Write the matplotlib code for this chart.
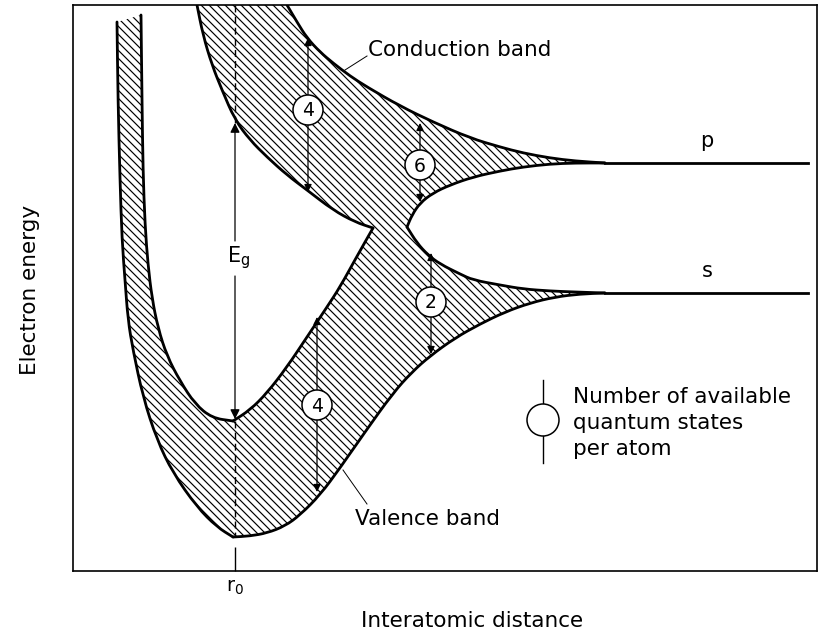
import numpy as np
import matplotlib
matplotlib.use('Agg')
import matplotlib.pyplot as plt
from matplotlib.patches import Circle, PathPatch
from matplotlib.path import Path
from matplotlib.collections import LineCollection

plt.rcParams['font.family'] = ['DejaVu Sans']

# band edges (distance, energy) in picture units, energy axis points down
outer_left_x = [117, 118, 120, 122, 125, 128, 133, 143, 157, 173, 197, 217, 233]
outer_left_y = [22, 100, 180, 240, 280, 320, 350, 397, 440, 473, 507, 527, 537]

inner_left_x = [141, 142, 143, 145, 148, 152, 158, 167, 180, 195, 212, 233]
inner_left_y = [15, 100, 170, 225, 265, 298, 328, 356, 381, 404, 418, 421]

valence_v_x = [233, 250, 267, 287, 307, 327, 340, 356, 373]
valence_v_y = [421, 410, 393, 367, 337, 307, 287, 258, 228]

valence_low_x = [233, 250, 267, 285, 300, 320, 340, 365, 393, 412, 430, 455, 480, 505, 530, 555, 580, 605]
valence_low_y = [537, 536, 533, 526, 515, 495, 468, 432, 393, 372, 356, 338, 324, 312, 303, 297, 294, 293]

cond_low_x = [197, 203, 212, 222, 235, 250, 267, 287, 307, 333, 355, 373]
cond_low_y = [5, 35, 65, 90, 120, 140, 157, 175, 190, 210, 222, 228]

cond_up_x = [287, 297, 307, 320, 333, 350, 367, 400, 433, 470, 500, 523, 550, 575, 605]
cond_up_y = [5, 22, 38, 52, 63, 76, 87, 106, 122, 138, 147, 153, 158, 161, 163]

lens_up_x = [407, 412, 420, 433, 450, 473, 500, 523, 550, 575, 605]
lens_up_y = [227, 215, 203, 193, 185, 177, 171, 167, 164, 163, 163]

lens_low_x = [407, 417, 428, 440, 460, 473, 500, 523, 550, 575, 605]
lens_low_y = [227, 243, 255, 264, 274, 280, 285, 289, 291, 292, 293]

level_names = ['p', 's']
level_x = [605, 808]
level_y = [163, 293]

# number of states per atom: (distance, energy top, energy bottom, count)
states_x = [308, 420, 431, 317]
states_top = [38, 123, 253, 317]
states_bot = [192, 202, 354, 492]
states_mid = [110, 165, 302, 405]
states_n = ['4', '6', '2', '4']

r0 = 235
r0_cond = 123
r0_val_top = 421
r0_val_bot = 537


def smooth(xs, ys):
    # quadratic curve through mid-points; ends kept exact
    p = np.column_stack([xs, ys]).astype(float)
    verts, codes = [p[0]], [Path.MOVETO]
    if len(p) > 2:
        verts.append((p[0] + p[1]) / 2)
        codes.append(Path.LINETO)
        for i in range(1, len(p) - 1):
            verts += [p[i], (p[i] + p[i + 1]) / 2]
            codes += [Path.CURVE3, Path.CURVE3]
    verts.append(p[-1])
    codes.append(Path.LINETO)
    return verts, codes


fig = plt.figure(figsize=(8.18, 6.36), dpi=100)
ax = fig.add_axes([73 / 818, 65 / 636, 744 / 818, 566 / 636])
ax.set_xlim(73, 817)
ax.set_ylim(571, 5)

# outline of the hatched region, walked once around
pieces = [
    (outer_left_x, outer_left_y),
    (valence_low_x[:-1], valence_low_y[:-1]),
    (lens_low_x[:-1][::-1], lens_low_y[:-1][::-1]),
    (lens_up_x[:-1], lens_up_y[:-1]),
    (cond_up_x[:-1][::-1], cond_up_y[:-1][::-1]),
    (cond_low_x, cond_low_y),
    (valence_v_x[::-1], valence_v_y[::-1]),
    (inner_left_x[::-1], inner_left_y[::-1]),
]
verts, codes = [], []
for k, (xs, ys) in enumerate(pieces):
    v, c = smooth(xs, ys)
    if k > 0:
        c[0] = Path.LINETO
    verts += v
    codes += c
verts.append(verts[0])
codes.append(Path.CLOSEPOLY)
region = PathPatch(Path(verts, codes), facecolor='none', edgecolor='none')
ax.add_patch(region)

# hatching, clipped to the region
step = 8
offs = np.arange(-900, 600, step)
segs = [[(0, c), (1000, 1000 + c)] for c in offs]
hatch = LineCollection(segs, colors='black', linewidths=0.85, zorder=1)
ax.add_collection(hatch)
hatch.set_clip_path(region)

lw = 2.0
for xs, ys in [(outer_left_x, outer_left_y), (inner_left_x, inner_left_y), (valence_v_x, valence_v_y),
               (valence_low_x, valence_low_y), (cond_low_x, cond_low_y), (cond_up_x, cond_up_y),
               (lens_up_x, lens_up_y), (lens_low_x, lens_low_y)]:
    v, c = smooth(xs, ys)
    ax.add_patch(PathPatch(Path(v, c), fill=False, edgecolor='black', lw=lw,
                           capstyle='round', joinstyle='round', zorder=3))
for name, y in zip(level_names, level_y):
    ax.plot(level_x, [y, y], color='black', lw=lw, zorder=3)
    ax.text(707, y - 22, name, fontsize=15, ha='center', va='center')

# state-count arrows with circled numbers
for x, t, b, m, n in zip(states_x, states_top, states_bot, states_mid, states_n):
    ax.annotate('', xy=(x, t), xytext=(x, b),
                arrowprops=dict(arrowstyle='<|-|>', color='black', lw=0.9,
                                mutation_scale=11, shrinkA=0, shrinkB=0), zorder=4)
    ax.add_patch(Circle((x, m), 15, facecolor='white', edgecolor='black', lw=1.1, zorder=5))
    ax.text(x, m + 1, n, fontsize=13.5, ha='center', va='center', zorder=6)

# band gap at r0
ax.plot([r0, r0], [5, r0_cond], color='black', lw=1, ls=(0, (5, 3)), zorder=2)
ax.plot([r0, r0], [r0_val_top, r0_val_bot], color='black', lw=1, ls=(0, (5, 3)), zorder=2)
ax.annotate('', xy=(r0, r0_cond), xytext=(r0, 241),
            arrowprops=dict(arrowstyle='-|>', color='black', lw=0.9, mutation_scale=14,
                            shrinkA=0, shrinkB=0), zorder=4)
ax.annotate('', xy=(r0, r0_val_top - 2), xytext=(r0, 276),
            arrowprops=dict(arrowstyle='-|>', color='black', lw=0.9, mutation_scale=14,
                            shrinkA=0, shrinkB=0), zorder=4)
ax.text(r0 + 4, 258, r'$\mathregular{E_g}$', fontsize=15, ha='center', va='center')

# band names with leader lines
ax.text(368, 50, 'Conduction band', fontsize=15.5, ha='left', va='center')
ax.plot([367, 345], [56, 70], color='black', lw=0.7)
ax.text(355, 519, 'Valence band', fontsize=15.5, ha='left', va='center')
ax.plot([367, 343], [504, 470], color='black', lw=0.7)

# key
ax.plot([543, 543], [380, 463], color='black', lw=1.0, zorder=4)
ax.add_patch(Circle((543, 420), 16, facecolor='white', edgecolor='black', lw=1.1, zorder=5))
for i, line in enumerate(['Number of available', 'quantum states', 'per atom']):
    ax.text(573, 397 + 26 * i, line, fontsize=15.5, ha='left', va='center')

ax.set_xticks([r0])
ax.set_xticklabels([r'$\mathregular{r_0}$'], fontsize=14)
ax.set_yticks([])
ax.tick_params(axis='x', direction='in', length=17, width=1, pad=5)
for s in ax.spines.values():
    s.set_linewidth(1.2)

ax.set_xlabel('Interatomic distance', fontsize=15.5)
ax.xaxis.set_label_coords(472, 611, transform=ax.transData)
ax.set_ylabel('Electron energy', fontsize=15.5)
ax.yaxis.set_label_coords(40, 290, transform=ax.transData)

fig.savefig('out.png', dpi=100)
